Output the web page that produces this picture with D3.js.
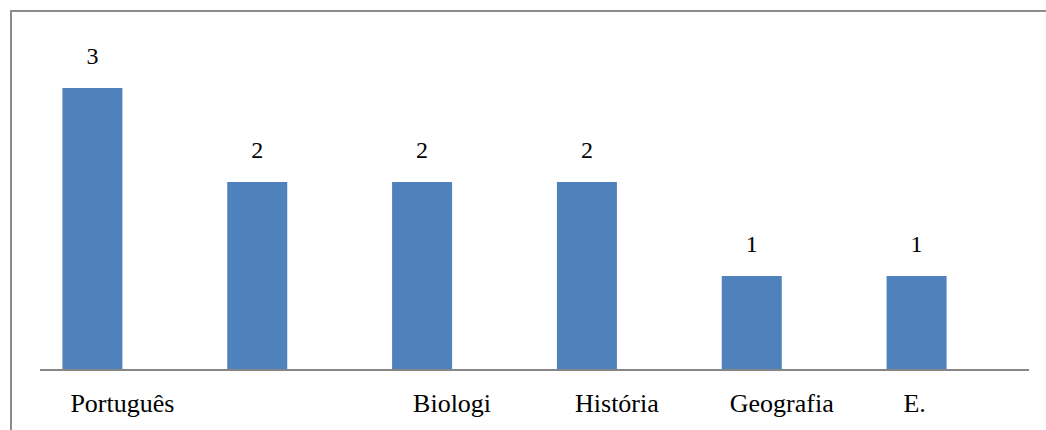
<!DOCTYPE html>
<html>
<head>
<meta charset="utf-8">
<script src="https://cdn.jsdelivr.net/npm/d3@7"></script>
</head>
<body style="margin:0;background:#fff">
<svg id="chart" width="1046" height="430"></svg>
<script>
// Teachers per subject
const subjects = ["Português", "Matemática", "Biologia", "História", "Geografia", "E. Física"];
const shownLabels = ["Português", "", "Biologi", "História", "Geografia", "E."];
const teacherCounts = [3, 2, 2, 2, 1, 1];

const serifFont = "'Times New Roman'";
const svg = d3.select("#chart");

// outer frame (runs past the right and bottom edges)
svg.append("rect")
  .attr("x", 11).attr("y", 11)
  .attr("width", 1200).attr("height", 600)
  .attr("fill", "none")
  .attr("stroke", "#8c8c8c")
  .attr("stroke-width", 2);

const plot = { left: 40, right: 1029, base: 370 };

const x = d3.scaleBand()
  .domain(subjects)
  .range([plot.left, plot.right])
  .paddingInner(0.272)
  .paddingOuter(0.136);

// two slots per category; the counts occupy the first one
const slot = d3.scaleBand().domain([0, 1]).range([0, x.bandwidth()]);

const y = d3.scaleLinear().domain([0, 3]).range([plot.base, 88]);

// bars
svg.append("g").selectAll("rect")
  .data(teacherCounts)
  .join("rect")
  .attr("x", (d, i) => x(subjects[i]) + slot(0))
  .attr("y", d => y(d))
  .attr("width", slot.bandwidth())
  .attr("height", d => y(0) - y(d))
  .attr("fill", "#4f81bd");

// count labels above the bars
svg.append("g").selectAll("text")
  .data(teacherCounts)
  .join("text")
  .attr("x", (d, i) => x(subjects[i]) + slot(0) + slot.bandwidth() / 2)
  .attr("y", d => y(d) - 24)
  .attr("text-anchor", "middle")
  .style("font-family", serifFont)
  .style("font-size", "24px")
  .style("fill", "#000")
  .text(d => d);

// category axis
svg.append("line")
  .attr("x1", plot.left).attr("x2", plot.right)
  .attr("y1", plot.base).attr("y2", plot.base)
  .attr("stroke", "#868686")
  .attr("stroke-width", 2);

svg.append("g").selectAll("text")
  .data(subjects)
  .join("text")
  .attr("x", (d, i) => x(d) + x.bandwidth() / 2 + (i === subjects.length - 1 ? -32 : 0))
  .attr("y", plot.base + 42)
  .attr("text-anchor", "middle")
  .style("font-family", serifFont)
  .style("font-size", "26px")
  .style("fill", "#000")
  .text((d, i) => shownLabels[i]);
</script>
</body>
</html>
